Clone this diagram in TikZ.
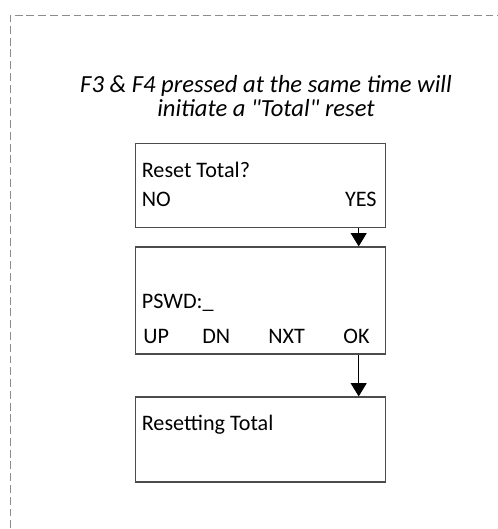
\documentclass[tikz,border=0pt]{standalone}
\usepackage{fontspec}
\setmainfont{Carlito}
\usetikzlibrary{arrows.meta}

\tikzset{
    lcd/.style={draw=black!70, line width=0.7pt, minimum width=5.01cm, inner sep=0pt},
    lbl/.style={anchor=base west, inner sep=0pt, font=\fontsize{12.6}{14}\selectfont},
    note/.style={anchor=base, inner sep=0pt, font=\fontsize{14}{16}\selectfont\itshape},
    flow/.style={-{Triangle[width=9pt,length=7.5pt]}, line width=0.6pt}
}

\begin{document}
\begin{tikzpicture}[x=0.02cm, y=-0.02cm]
    \useasboundingbox (0,0) rectangle (498,529);
    % dashed frame (runs off the right and bottom)
    \draw[black!45, dashed, dash pattern=on 4.5pt off 2.2pt, line width=0.5pt] (10,540) -- (10,15) -- (510,15);

    \node[note] (n1) at (266,92) {F3 \& F4 pressed at the same time will};
    \node[note] (n2) at (266,116) {initiate a \textquotedbl Total\textquotedbl\ reset};

    % displays
    \node[lcd, minimum height=1.68cm] (box1) at (260.5,185.5) {};
    \node[lbl] (t1) at (141.5,177) {Reset Total?};
    \node[lbl] (no) at (141.5,206.5) {NO};
    \node[lbl, anchor=base east] (yes) at (377,206.5) {YES};

    \node[lcd, minimum height=2.14cm] (box2) at (260.5,300.5) {};
    \node[lbl] (t2) at (141.5,308) {PSWD:\_};
    \node[lbl] (up) at (143,343) {UP};
    \node[lbl] (dn) at (202,343) {DN};
    \node[lbl] (nxt) at (268,343) {NXT};
    \node[lbl] (ok) at (343,343) {OK};

    \node[lcd, minimum height=1.7cm] (box3) at (260.5,439.5) {};
    \node[lbl] (t3) at (141.5,430) {Resetting Total};

    \coordinate (ax) at (358.7,0);
    \draw[flow] (box1.south -| ax) -- (box2.north -| ax);
    \draw[flow] (box2.south -| ax) -- (box3.north -| ax);
\end{tikzpicture}
\end{document}
